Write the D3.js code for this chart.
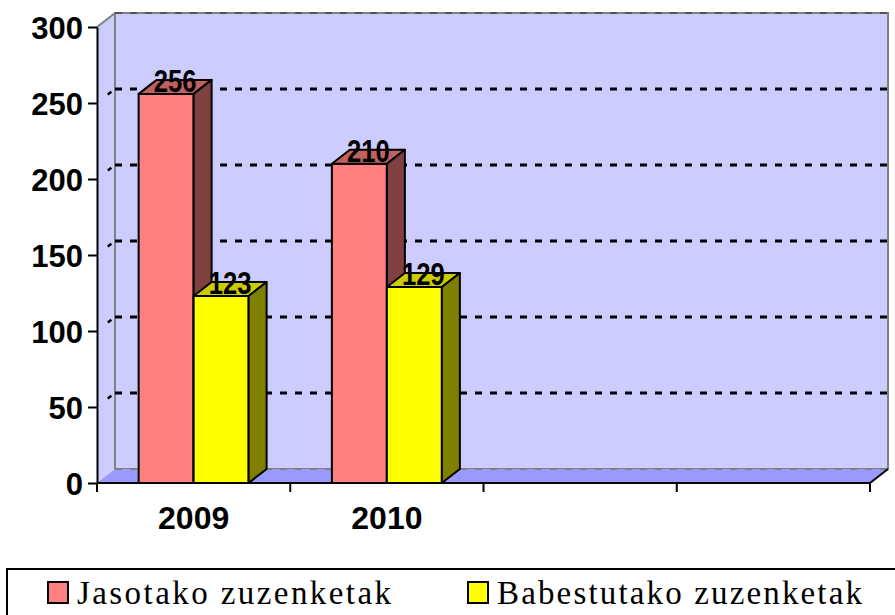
<!DOCTYPE html>
<html lang="eu">
<head>
  <meta charset="UTF-8">
  <title>Zuzenketak 2009-2010</title>
  <script src="https://cdnjs.cloudflare.com/ajax/libs/d3/7.8.5/d3.min.js"></script>
  <style>
    body { margin: 0; background: #fff; }
    svg { display: block; }
  </style>
</head>
<body>
  <svg id="chart" width="895" height="615"></svg>
  <script>
    // datuak
    const categories = ["2009", "2010", "", ""];
    const jasotako = [256, 210, null, null];
    const babestutako = [123, 129, null, null];
    const yTicks = [0, 50, 100, 150, 200, 250, 300];
    const seriesNames = ["Jasotako zuzenketak", "Babestutako zuzenketak"];

    const svg = d3.select("#chart");
    const dx = 18, dy = 14;           // 3D sakonera
    const plotLeft = 97, plotRight = 870, plotBottom = 483, plotTop = 27;

    const x = d3.scaleBand().domain(d3.range(categories.length)).range([plotLeft, plotRight]);
    const xs = d3.scaleBand().domain([0, 1]).range([0, x.bandwidth()])
      .paddingInner(0).paddingOuter(0.757);
    const y = d3.scaleLinear().domain([0, 300]).range([plotBottom, plotTop]);

    // ezkerreko horma
    svg.append("polygon")
      .attr("points", [[plotLeft, y(300)], [plotLeft + dx, y(300) - dy], [plotLeft + dx, plotBottom - dy], [plotLeft, plotBottom]].join(" "))
      .attr("fill", "#ccccff");
    svg.append("line")
      .attr("x1", plotLeft).attr("y1", y(300)).attr("x2", plotLeft + dx).attr("y2", y(300) - dy)
      .attr("stroke", "#808080").attr("stroke-width", 2);

    // atzeko horma
    svg.append("rect")
      .attr("x", plotLeft + dx).attr("y", y(300) - dy)
      .attr("width", plotRight - plotLeft).attr("height", plotBottom - y(300))
      .attr("fill", "#ccccff").attr("stroke", "#808080").attr("stroke-width", 2);

    // zorua
    svg.append("polygon")
      .attr("points", [[plotLeft, plotBottom], [plotLeft + dx, plotBottom - dy], [plotRight + dx, plotBottom - dy], [plotRight, plotBottom]].join(" "))
      .attr("fill", "#9999ff");
    svg.append("line")
      .attr("x1", plotLeft + dx).attr("y1", plotBottom - dy).attr("x2", plotRight + dx).attr("y2", plotBottom - dy)
      .attr("stroke", "#808080").attr("stroke-width", 2).attr("stroke-dasharray", "7,8");

    // sareta
    svg.append("g").selectAll("line.grid")
      .data(yTicks.filter(d => d > 0))
      .join("line")
      .attr("x1", plotLeft + dx).attr("x2", plotRight + dx)
      .attr("y1", d => y(d) - dy).attr("y2", d => y(d) - dy)
      .attr("stroke", d => d === 300 ? "#555" : "#000")
      .attr("stroke-width", d => d === 300 ? 2 : 3)
      .attr("stroke-dasharray", "7,8");
    svg.append("g").selectAll("line.side")
      .data(yTicks.filter(d => d > 0 && d < 300))
      .join("line")
      .attr("x1", plotLeft + dx * 0.6).attr("x2", plotLeft + dx * 0.8)
      .attr("y1", d => y(d) - dy * 0.6).attr("y2", d => y(d) - dy * 0.8)
      .attr("stroke", "#000").attr("stroke-width", 2.5);

    // barrak
    const colors = [
      { front: "#ff8080", top: "#c06060", side: "#804040" },
      { front: "#ffff00", top: "#cccc00", side: "#808000" }
    ];
    const bars = [];
    categories.forEach((c, i) => {
      [jasotako[i], babestutako[i]].forEach((v, s) => {
        if (v == null) return;
        bars.push({ v, s, x0: x(i) + xs(s), w: xs.bandwidth() });
      });
    });

    const gBars = svg.append("g").attr("stroke", "#000").attr("stroke-width", 2).attr("stroke-linejoin", "round");
    bars.forEach(b => {
      const yt = y(b.v);
      gBars.append("rect")
        .attr("x", b.x0).attr("y", yt).attr("width", b.w).attr("height", plotBottom - yt)
        .attr("fill", colors[b.s].front);
      gBars.append("polygon")
        .attr("points", [[b.x0, yt], [b.x0 + dx, yt - dy], [b.x0 + b.w + dx, yt - dy], [b.x0 + b.w, yt]].join(" "))
        .attr("fill", colors[b.s].top);
      gBars.append("polygon")
        .attr("points", [[b.x0 + b.w, yt], [b.x0 + b.w + dx, yt - dy], [b.x0 + b.w + dx, plotBottom - dy], [b.x0 + b.w, plotBottom]].join(" "))
        .attr("fill", colors[b.s].side);
    });

    // balio etiketak
    svg.append("g").selectAll("text")
      .data(bars)
      .join("text")
      .attr("transform", d => `translate(${d.x0 + d.w / 2 + dx / 2},${y(d.v) - 2}) scale(0.8,1)`)
      .attr("text-anchor", "middle")
      .attr("font-family", "'Liberation Sans', Arial, sans-serif")
      .attr("font-weight", "bold")
      .attr("font-size", 32)
      .attr("fill", "#000")
      .text(d => d.v);

    // Y ardatza
    const yAxis = svg.append("g")
      .attr("transform", `translate(${plotLeft},0)`)
      .call(d3.axisLeft(y).tickValues(yTicks).tickSize(9).tickSizeOuter(0).tickPadding(5));
    yAxis.select(".domain").attr("stroke", "#000").attr("stroke-width", 2);
    yAxis.selectAll(".tick line").attr("stroke", "#000").attr("stroke-width", 2);
    yAxis.selectAll(".tick text")
      .attr("font-family", "'Liberation Sans', Arial, sans-serif")
      .attr("font-weight", "bold").attr("font-size", 31).attr("fill", "#000")
      .attr("dy", "0.36em");

    // X ardatza
    svg.append("line")
      .attr("x1", plotLeft).attr("x2", plotRight).attr("y1", plotBottom).attr("y2", plotBottom)
      .attr("stroke", "#000").attr("stroke-width", 2);
    svg.append("line")
      .attr("x1", plotRight).attr("y1", plotBottom).attr("x2", plotRight + dx).attr("y2", plotBottom - dy)
      .attr("stroke", "#000").attr("stroke-width", 2);
    const xTickPos = d3.range(categories.length).map(i => x(i)).concat([plotRight]);
    svg.append("g").selectAll("line")
      .data(xTickPos)
      .join("line")
      .attr("x1", d => d).attr("x2", d => d).attr("y1", plotBottom).attr("y2", plotBottom + 9)
      .attr("stroke", "#000").attr("stroke-width", 2);
    svg.append("g").selectAll("text")
      .data(categories)
      .join("text")
      .attr("x", (d, i) => x(i) + x.bandwidth() / 2)
      .attr("y", 529)
      .attr("text-anchor", "middle")
      .attr("font-family", "'Liberation Sans', Arial, sans-serif")
      .attr("font-weight", "bold").attr("font-size", 32)
      .text(d => d);

    // legenda
    svg.append("rect")
      .attr("x", 7).attr("y", 569).attr("width", 900).attr("height", 60)
      .attr("fill", "#fff").attr("stroke", "#000").attr("stroke-width", 2);
    const legendX = [48, 468];
    const legendW = [314, 365];
    const lg = svg.append("g").selectAll("g")
      .data(seriesNames)
      .join("g")
      .attr("transform", (d, i) => `translate(${legendX[i]},0)`);
    lg.append("rect")
      .attr("x", 0).attr("y", 582).attr("width", 20).attr("height", 21)
      .attr("fill", (d, i) => colors[i].front).attr("stroke", "#000").attr("stroke-width", 2);
    lg.append("text")
      .attr("x", 29).attr("y", 604)
      .attr("font-family", "'Liberation Serif', 'Times New Roman', serif")
      .attr("font-size", 33)
      .attr("textLength", (d, i) => legendW[i])
      .attr("lengthAdjust", "spacing")
      .attr("fill", "#000")
      .text(d => d);
  </script>
</body>
</html>
